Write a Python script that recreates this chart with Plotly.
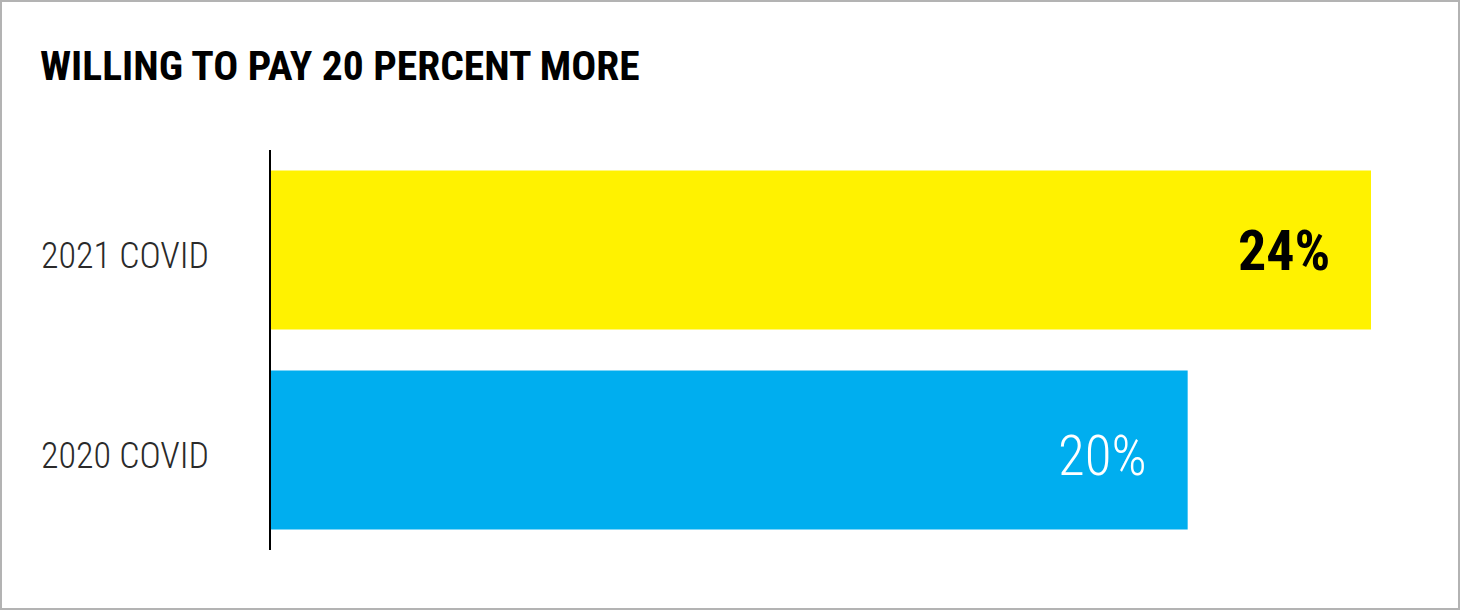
import plotly.graph_objects as go

categories = ["2020 COVID", "2021 COVID"]
values = [20, 24]
value_labels = ["20%", "24%"]
bar_colors = ["#00AEEF", "#FFF200"]
label_colors = ["#FFFFFF", "#000000"]
label_weights = ["normal", "bold"]
title_text = "WILLING TO PAY 20 PERCENT MORE"

W, H = 1460, 610
ML, MR, MT, MB = 271, 89, 150, 60
PW, PH = W - ML - MR, H - MT - MB

FONT = "Roboto Condensed, DejaVu Sans Condensed, sans-serif"

fig = go.Figure()
fig.add_trace(go.Bar(
    x=values, y=categories, orientation="h",
    marker=dict(color=bar_colors, line=dict(width=0)),
    hoverinfo="skip", showlegend=False,
))

annotations = []
# category labels, left aligned
for cat in categories:
    annotations.append(dict(
        x=(39 - ML) / PW, xref="paper", y=cat, yref="y",
        text=cat, showarrow=False, xanchor="left", yanchor="middle",
        yshift=-6,
        font=dict(family=FONT, size=36, color="#2a2a2a", weight=300),
    ))
# value labels inside bars near the end
for cat, v, lab, col, wt in zip(categories, values, value_labels, label_colors, label_weights):
    annotations.append(dict(
        x=v, xref="x", y=cat, yref="y",
        text=lab,
        showarrow=False, xanchor="right", yanchor="middle",
        xshift=-39, yshift=-1 if wt == "bold" else -6,
        font=dict(family=FONT, size=56 if wt == "bold" else 55, color=col,
                  weight=700 if wt == "bold" else 300),
    ))
# title
annotations.append(dict(
    x=(38 - ML) / PW, xref="paper", y=1 + (MT - 65) / PH, yref="paper",
    text=title_text, showarrow=False, xanchor="left", yanchor="middle",
    font=dict(family=FONT, size=41.5, color="#000000", weight=700),
))

fig.update_layout(
    width=W, height=H,
    margin=dict(l=ML, r=MR, t=MT, b=MB, pad=0),
    paper_bgcolor="white", plot_bgcolor="white",
    bargap=0.205,
    xaxis=dict(range=[0, 24], visible=False, fixedrange=True),
    yaxis=dict(range=[-0.5, 1.5], showticklabels=False, ticks="",
               showline=True, linecolor="#000000", linewidth=2,
               showgrid=False, zeroline=False, fixedrange=True),
    annotations=annotations,
    shapes=[dict(
        type="rect", xref="paper", yref="paper",
        x0=(1 - ML) / PW, x1=(W - 1 - ML) / PW,
        y0=-(MB - 1) / PH, y1=1 + (MT - 1) / PH,
        line=dict(color="#b3b3b3", width=2), fillcolor="rgba(0,0,0,0)", layer="below",
    )],
)

fig.write_html(
    "out.html",
    config={"displayModeBar": False},
    post_script="document.body.style.margin='0';document.body.style.padding='0';",
)
